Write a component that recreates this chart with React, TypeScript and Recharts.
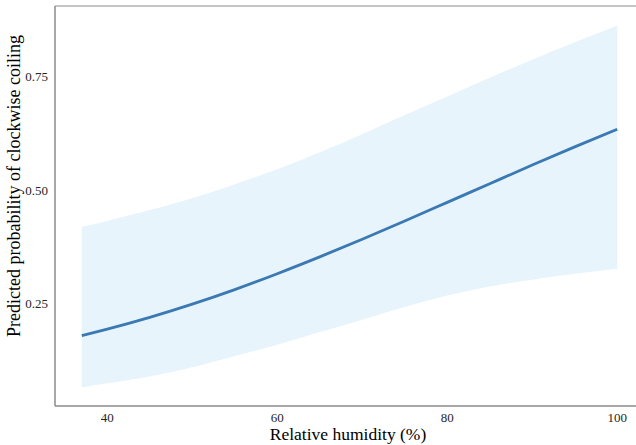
import React from "react";
import { ComposedChart, Area, Line, XAxis, YAxis, ReferenceArea } from "recharts";

const humidity = [37, 40, 45, 50, 55, 60, 65, 70, 75, 80, 85, 90, 95, 100];
const predicted = [0.18, 0.194, 0.22, 0.249, 0.281, 0.316, 0.353, 0.392, 0.432, 0.473, 0.514, 0.555, 0.595, 0.634];
const upperCI = [0.419, 0.432, 0.456, 0.482, 0.513, 0.546, 0.583, 0.623, 0.665, 0.706, 0.747, 0.787, 0.825, 0.862];
const lowerCI = [0.066, 0.075, 0.09, 0.11, 0.135, 0.16, 0.188, 0.215, 0.243, 0.268, 0.288, 0.303, 0.316, 0.327];
const xTicks = [40, 60, 80, 100];
const yTicks = [0.25, 0.5, 0.75];

const data = humidity.map((h, i) => ({
  h,
  p: predicted[i],
  band: [lowerCI[i], upperCI[i]],
}));

const FONT = "'Liberation Serif', 'DejaVu Serif', serif";
const X_DOMAIN: [number, number] = [33.85, 103.15];
const Y_DOMAIN: [number, number] = [0.025, 0.905];

export default function App() {
  return (
    <div style={{ position: "absolute", left: 0, top: 0, width: 636, height: 445, overflow: "hidden", background: "#fff" }}>
      <ComposedChart width={646} height={445} data={data} margin={{ top: 6, right: 2, left: 0, bottom: 0 }}>
        <XAxis
          dataKey="h"
          type="number"
          domain={X_DOMAIN}
          ticks={xTicks}
          height={39}
          tickLine={false}
          tickSize={0}
          tickMargin={7}
          axisLine={{ stroke: "#8a8a8a", strokeWidth: 1 }}
          tick={{ fill: "#262626", fontSize: 13, fontFamily: FONT }}
          allowDataOverflow
          label={{
            content: () => (
              <text x={348} y={440} textAnchor="middle" fontFamily={FONT} fontSize={17.5} fill="#000">
                Relative humidity (%)
              </text>
            ),
          }}
        />
        <YAxis
          type="number"
          domain={Y_DOMAIN}
          ticks={yTicks}
          width={55}
          tickLine={false}
          tickSize={0}
          tickMargin={7}
          tickFormatter={(v: number) => v.toFixed(2)}
          axisLine={{ stroke: "#8a8a8a", strokeWidth: 1 }}
          tick={{ fill: "#262626", fontSize: 13, fontFamily: FONT }}
          allowDataOverflow
          label={{
            content: () => (
              <text
                x={14}
                y={186}
                transform="rotate(-90 14 186)"
                textAnchor="middle"
                dominantBaseline="central"
                fontFamily={FONT}
                fontSize={18}
                fill="#000"
              >
                Predicted probability of clockwise coiling
              </text>
            ),
          }}
        />
        <ReferenceArea
          x1={X_DOMAIN[0]}
          x2={X_DOMAIN[1]}
          y1={Y_DOMAIN[0]}
          y2={Y_DOMAIN[1]}
          fill="none"
          stroke="#8a8a8a"
          strokeWidth={1}
          ifOverflow="visible"
        />
        <Area
          dataKey="band"
          type="natural"
          stroke="none"
          fill="#e8f4fc"
          fillOpacity={1}
          isAnimationActive={false}
        />
        <Line
          dataKey="p"
          type="natural"
          stroke="#3a79b3"
          strokeWidth={2.8}
          dot={false}
          activeDot={false}
          isAnimationActive={false}
        />
      </ComposedChart>
    </div>
  );
}
